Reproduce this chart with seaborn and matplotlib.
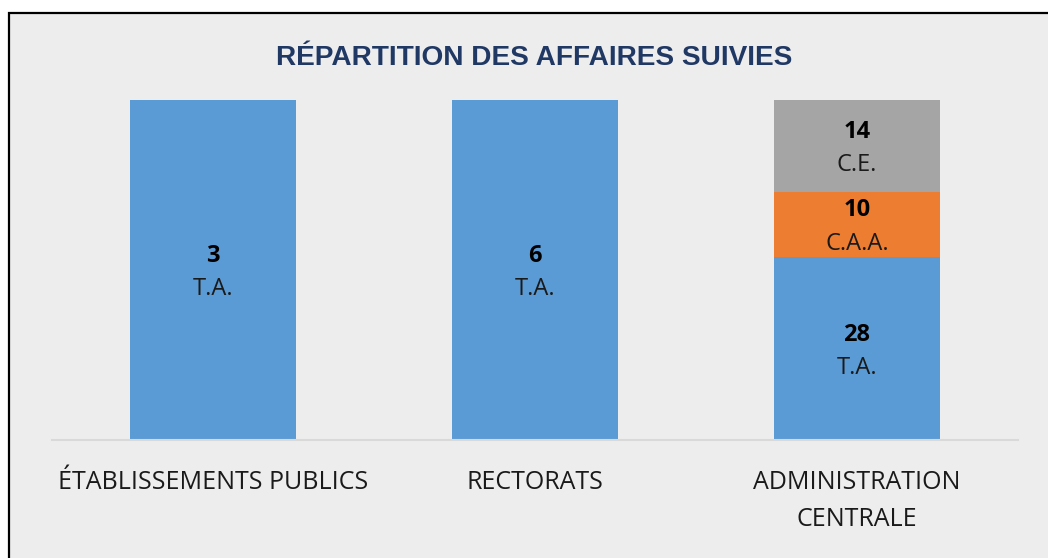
import seaborn as sns
import numpy as np
import pandas as pd
import matplotlib.pyplot as plt
from matplotlib.patches import Rectangle

# data
categories = ["ÉTABLISSEMENTS PUBLICS", "RECTORATS", "ADMINISTRATION\nCENTRALE"]
segments = ["T.A.", "C.A.A.", "C.E."]
seg_category = ["ÉTABLISSEMENTS PUBLICS", "RECTORATS", "ADMINISTRATION\nCENTRALE",
                "ADMINISTRATION\nCENTRALE", "ADMINISTRATION\nCENTRALE"]
seg_type = ["T.A.", "T.A.", "T.A.", "C.A.A.", "C.E."]
seg_value = [3, 6, 28, 10, 14]
seg_colors = {"T.A.": "#5B9BD5", "C.A.A.": "#ED7D31", "C.E.": "#A5A5A5"}
title = "RÉPARTITION DES AFFAIRES SUIVIES"

df = pd.DataFrame({"cat": seg_category, "type": seg_type, "value": seg_value})
# 100% stacked: share of each category's total
df["pct"] = df["value"] / df.groupby("cat")["value"].transform("sum") * 100
df["bottom"] = df.groupby("cat")["pct"].cumsum() - df["pct"]

sns.set_style("white")
plt.rcParams["font.family"] = ["Open Sans", "DejaVu Sans"]

fig = plt.figure(figsize=(10.48, 5.58), dpi=100, facecolor="white")
# chart frame (screenshot crop: only left and top edges visible)
fig.patches.append(Rectangle((9 / 1048, -0.1), 1.2, 1.1 - 13 / 558,
                             transform=fig.transFigure, facecolor="#EDEDED",
                             edgecolor="black", linewidth=1.6, zorder=-1))
ax = fig.add_axes([52 / 1048, 118 / 558, 966 / 1048, 340 / 558])
ax.set_facecolor("none")

cat_pos = {c: i for i, c in enumerate(categories)}
for seg in segments:
    sub = df[df["type"] == seg]
    sns.barplot(data=sub, x="cat", y="pct", order=categories, color=seg_colors[seg],
                width=166 / 322, bottom=sub["bottom"].values, saturation=1,
                linewidth=0, ax=ax)

for _, r in df.iterrows():
    x = cat_pos[r["cat"]]
    y = r["bottom"] + r["pct"] / 2
    ax.annotate(f"{r['value']}", (x, y), xytext=(0, 10), textcoords="offset points",
                ha="center", va="center", fontsize=17, fontweight="bold", color="black")
    ax.annotate(r["type"], (x, y), xytext=(0, -14), textcoords="offset points",
                ha="center", va="center", fontsize=17, color="#1a1a1a")

ax.set_xlim(-0.5, 2.5)
ax.set_ylim(0, 100)
ax.set_xlabel("")
ax.set_ylabel("")
ax.set_yticks([])
for s in ["top", "right", "left"]:
    ax.spines[s].set_visible(False)
ax.spines["bottom"].set_color("#D9D9D9")
ax.spines["bottom"].set_linewidth(1.5)
ax.tick_params(axis="x", length=0, pad=21.5, labelsize=18, labelcolor="#1a1a1a")
plt.setp(ax.get_xticklabels(), linespacing=1.62)

fig.text(534 / 1048, 1 - 58 / 558, title, ha="center", va="center",
         fontsize=20.2, fontweight="bold", color="#203864", family="Liberation Sans")

fig.savefig("out.png", dpi=100, facecolor="white")
